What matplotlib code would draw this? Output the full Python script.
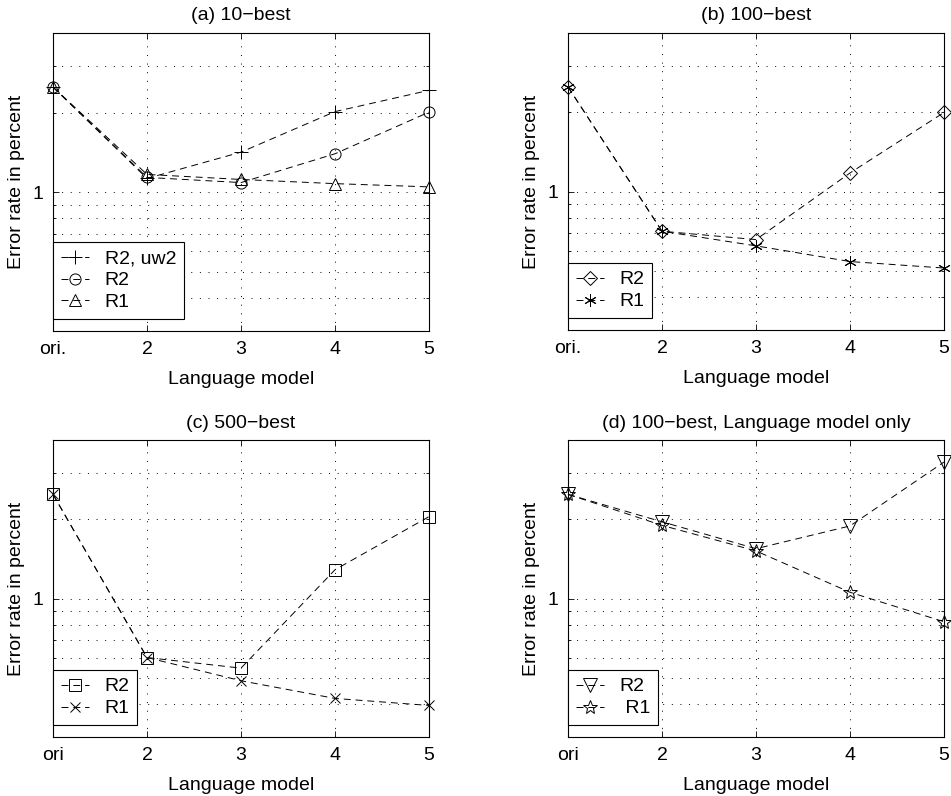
import matplotlib
matplotlib.use("Agg")
import matplotlib.pyplot as plt
from matplotlib.ticker import NullFormatter, FixedLocator

plt.rcParams['font.family'] = ['Liberation Sans', 'DejaVu Sans']
plt.rcParams['font.size'] = 14
plt.rcParams['lines.scale_dashes'] = False

x = [1, 2, 3, 4, 5]
xlabels_dot = ['ori.', '2', '3', '4', '5']
xlabels_nodot = ['ori', '2', '3', '4', '5']

# (a) 10-best
a_r2uw2 = [2.5, 1.13, 1.42, 2.02, 2.43]
a_r2 = [2.5, 1.14, 1.09, 1.40, 2.01]
a_r1 = [2.5, 1.17, 1.12, 1.08, 1.05]
# (b) 100-best
b_r2 = [2.5, 0.71, 0.66, 1.18, 2.0]
b_r1 = [2.5, 0.71, 0.625, 0.545, 0.515]
# (c) 500-best
c_r2 = [2.49, 0.60, 0.547, 1.29, 2.05]
c_r1 = [2.49, 0.60, 0.49, 0.42, 0.395]
# (d) 100-best, LM only
d_r2 = [2.49, 1.96, 1.55, 1.89, 3.30]
d_r1 = [2.49, 1.90, 1.52, 1.06, 0.82]

ylim = (0.3, 4.0)
minor_y = [0.4, 0.5, 0.6, 0.7, 0.8, 0.9, 2, 3]

fig = plt.figure(figsize=(9.51, 7.96), dpi=100)
W, H = 951, 796

def make_ax(left, top, right, bottom):
    return fig.add_axes([left / W, 1 - bottom / H, (right - left) / W, (bottom - top) / H])

axes_px = [
    (53, 33, 429, 331),
    (568, 33, 944, 330),
    (53, 440, 429, 737),
    (568, 440, 944, 737),
]

panels = [
    ('(a) 10\u2212best', xlabels_dot,
     [(a_r2uw2, '+', 'R2, uw2', 10), (a_r2, 'o', 'R2', 8), (a_r1, '^', 'R1', 9)]),
    ('(b) 100\u2212best', xlabels_dot,
     [(b_r2, 'D', 'R2', 7.5), (b_r1, (6, 2, 0), 'R1', 9)]),
    ('(c) 500\u2212best', xlabels_nodot,
     [(c_r2, 's', 'R2', 8), (c_r1, 'x', 'R1', 6.5)]),
    ('(d) 100\u2212best, Language model only', xlabels_nodot,
     [(d_r2, 'v', 'R2', 9.5), (d_r1, '*', ' R1', 10)]),
]

for (l, t, r, b), (title, xl, series) in zip(axes_px, panels):
    ax = make_ax(l, t, r, b)
    ax.set_yscale('log')
    for vals, mk, lab, ms in series:
        ax.plot(x, vals, color='black', lw=0.7, linestyle=(0, (5, 3.5)),
                marker=mk, ms=ms, mfc='none', mec='black', mew=0.7,
                label=lab, clip_on=False)
    ax.set_xlim(1, 5)
    ax.set_ylim(*ylim)
    ax.set_xticks(x)
    ax.set_xticklabels(xl)
    ax.yaxis.set_major_locator(FixedLocator([1]))
    ax.set_yticklabels(['1'])
    ax.yaxis.set_minor_locator(FixedLocator(minor_y))
    ax.yaxis.set_minor_formatter(NullFormatter())
    ax.tick_params(which='both', direction='in', top=True, right=True, width=0.6,
                   labelsize=14)
    ax.tick_params(which='major', length=4, pad=7)
    ax.tick_params(which='minor', length=2.5)
    gls = (0, (0.7, 5.5))
    ax.grid(True, which='major', axis='x', color='black', lw=0.7, linestyle=gls)
    ax.grid(True, which='both', axis='y', color='black', lw=0.7, linestyle=gls)
    for sp in ax.spines.values():
        sp.set_linewidth(0.8)
    ax.set_title(title, fontsize=14, pad=9)
    ax.set_xlabel('Language model', fontsize=14, labelpad=9.5)
    ax.set_ylabel('Error rate in percent', fontsize=14, labelpad=5)
    leg = ax.legend(loc='lower left', bbox_to_anchor=(0, 0.04), borderaxespad=0,
                    fancybox=False, edgecolor='black', framealpha=1,
                    handlelength=1.45, handletextpad=0.8, borderpad=0.4,
                    labelspacing=0.22, fontsize=14)
    leg.get_frame().set_linewidth(0.8)

fig.savefig('out.png', dpi=100)
